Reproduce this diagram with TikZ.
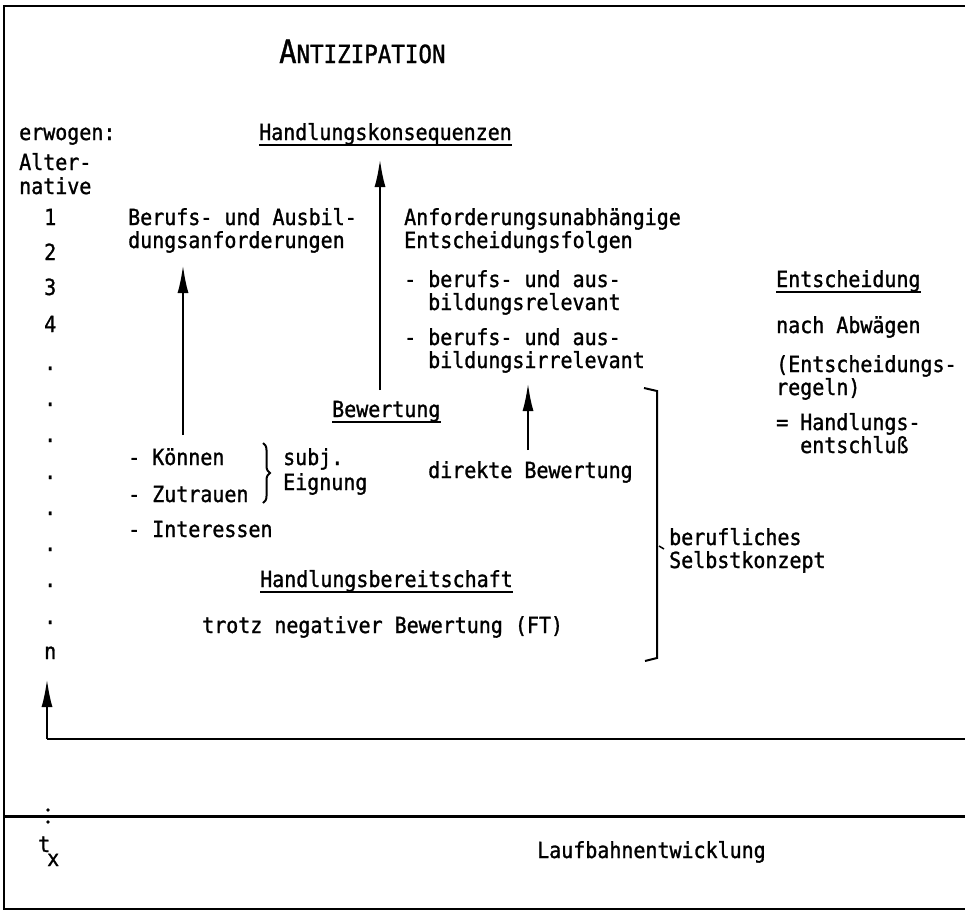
\documentclass[tikz,border=0pt]{standalone}
\usepackage{fontspec}
\setmainfont{DejaVu Sans Mono}[FakeStretch=0.9,FakeBold=1.2]
\usetikzlibrary{arrows.meta,decorations.pathreplacing}
\begin{document}
\begin{tikzpicture}[x=1pt,y=-1pt,
  txt/.style={anchor=base west,inner sep=0pt,font=\fontsize{22.2}{24}\selectfont},
  frame/.style={line width=2.6pt},
  arr/.style={line width=2.4pt,-{Latex[length=28pt,width=11pt]}},
  uline/.style={line width=1.8pt}]
\useasboundingbox (0,0) rectangle (965,911);
% frame
\draw[frame] (965,6) -- (4,6) -- (4,909) -- (965,909);
\draw[line width=3pt] (4,816) -- (965,816);
% title
\node[txt] (title) at (279,63) {{\fontsize{32}{30}\selectfont A}{\fontsize{25}{24}\selectfont NTIZIPATION}};
% left column
\node[txt] (erw) at (19,140) {erwogen:};
\node[txt] (alt1) at (19,170) {Alter-};
\node[txt] (alt2) at (19,194) {native};
\node[txt] (n1) at (44,225) {1};
\node[txt] (n2) at (44,260) {2};
\node[txt] (n3) at (44,295) {3};
\node[txt] (n4) at (44,332) {4};
\node[txt] (d1) at (44,370) {.};
\node[txt] (d2) at (44,406) {.};
\node[txt] (d3) at (44,442) {.};
\node[txt] (d4) at (44,479) {.};
\node[txt] (d5) at (44,515) {.};
\node[txt] (d6) at (44,551) {.};
\node[txt] (d7) at (44,587) {.};
\node[txt] (d8) at (44,624) {.};
\node[txt] (nn) at (44,659) {n};
% consequences
\node[txt] (hk) at (259,140) {Handlungskonsequenzen};
\draw[uline] ([yshift=-5pt]hk.base west) -- ([yshift=-5pt]hk.base east);
\node[txt] (ba1) at (128,225) {Berufs- und Ausbil-};
\node[txt] (ba2) at (128,248) {dungsanforderungen};
\node[txt] (au1) at (404,225) {Anforderungsunabhängige};
\node[txt] (au2) at (404,248) {Entscheidungsfolgen};
\node[txt] (br1) at (404,287) {- berufs- und aus-};
\node[txt] (br2) at (428,310) {bildungsrelevant};
\node[txt] (bi1) at (404,345) {- berufs- und aus-};
\node[txt] (bi2) at (428,368) {bildungsirrelevant};
% evaluation
\node[txt] (bew) at (332,417) {Bewertung};
\draw[uline] ([yshift=-5pt]bew.base west) -- ([yshift=-5pt]bew.base east);
\node[txt] (dir) at (428,478) {direkte Bewertung};
\node[txt] (k1) at (128,465) {- Können};
\node[txt] (k2) at (128,502) {- Zutrauen};
\node[txt] (k3) at (128,537) {- Interessen};
\node[txt] (sub1) at (283,465) {subj.};
\node[txt] (sub2) at (283,490) {Eignung};
\draw[line width=2pt,decorate,decoration={brace,amplitude=7pt}] (263,443) -- (263,503);
\node[txt] (hb) at (260,587) {Handlungsbereitschaft};
\draw[uline] ([yshift=-5pt]hb.base west) -- ([yshift=-5pt]hb.base east);
\node[txt] (tr) at (202,633) {trotz negativer Bewertung (FT)};
% self concept bracket
\draw[line width=2pt] (644,388) -- (657,391) -- (657,658) -- (645,661);
\draw[line width=1.5pt] (659,546) -- (664,549);
\node[txt] (bs1) at (669,545) {berufliches};
\node[txt] (bs2) at (669,568) {Selbstkonzept};
% decision
\node[txt] (ent) at (776,287) {Entscheidung};
\draw[uline] ([yshift=-5pt]ent.base west) -- ([yshift=-5pt]ent.base east);
\node[txt] (na) at (776,333) {nach Abwägen};
\node[txt] (er1) at (776,372) {(Entscheidungs-};
\node[txt] (er2) at (776,395) {regeln)};
\node[txt] (hs1) at (776,430) {= Handlungs-};
\node[txt] (hs2) at (800,453) {entschluß};
% arrows
\coordinate (a1s) at (183,435); \coordinate (a1e) at (183,265);
\coordinate (a2s) at (380,390); \coordinate (a2e) at (380,159);
\coordinate (a3s) at (528,450); \coordinate (a3e) at (528,383);
\coordinate (corner) at (47,739); \coordinate (a4e) at (47,679);
\coordinate (hend) at (965,739);
\draw[arr] (a1s) -- (a1e);
\draw[arr] (a2s) -- (a2e);
\draw[arr] (a3s) -- (a3e);
\draw[arr] (corner) -- (a4e);
\draw[line width=2.2pt] (corner) -- (hend);
% time axis
\fill (48,810) circle (1.8pt);
\fill (48,822) circle (1.8pt);
\node[txt] (t) at (38,852) {t};
\node[txt] (tsub) at (47,866) {x};
\node[txt] (lauf) at (537,858) {Laufbahnentwicklung};
\end{tikzpicture}
\end{document}
